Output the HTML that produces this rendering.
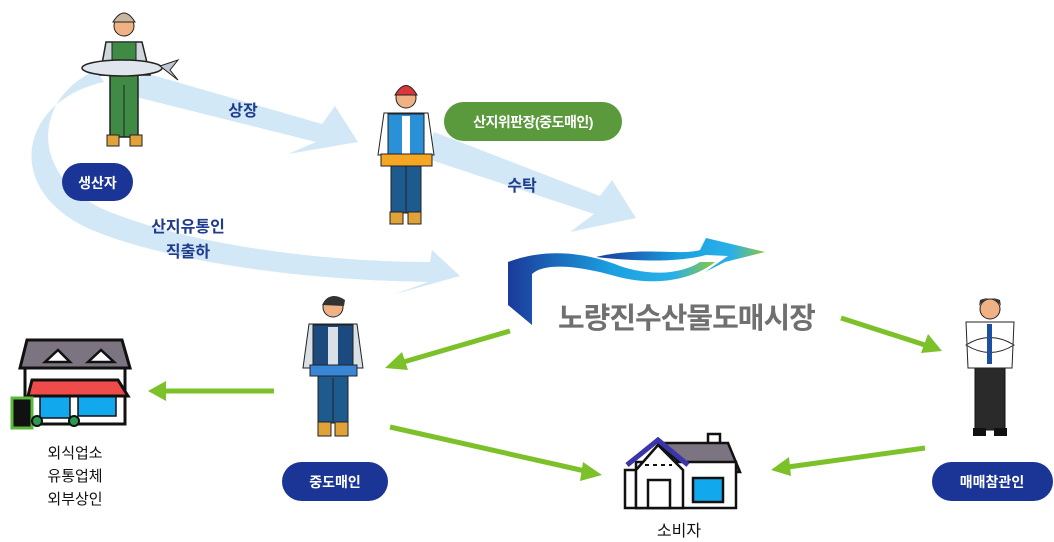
<!DOCTYPE html>
<html><head><meta charset="utf-8"><style>
html,body{margin:0;padding:0;background:#fff;}
svg{display:block;}
text{font-family:"Liberation Sans","Noto Sans CJK KR",sans-serif;}
</style></head><body>
<svg width="1054" height="542" viewBox="0 0 1054 542" xmlns="http://www.w3.org/2000/svg">
<defs>
<linearGradient id="wave" x1="0" y1="0" x2="1" y2="0">
<stop offset="0" stop-color="#1b3a9a"/><stop offset="0.5" stop-color="#1aa0e0"/><stop offset="0.8" stop-color="#2ab0e8"/><stop offset="1" stop-color="#8cc63f"/>
</linearGradient>
</defs>
<!-- light blue arrows -->
<g fill="#d3e8f6">
<path d="M142,72 L322,124 L335,106 L358,142 L288,154 L316,142 L132,96 Z"/>
<path d="M434,132 L600,196 L612,180 L636,218 L570,232 L594,214 L425,158 Z"/>
<path d="M96,70 C30,100 30,180 110,212 C190,244 320,262 430,262 L432,250 L460,276 L395,294 L428,282 C300,280 170,262 92,230 C0,190 20,100 104,82 Z"/>
</g>
<!-- green arrows -->
<g stroke="#7dc12a" stroke-width="5" fill="#7dc12a">
<line x1="510" y1="331" x2="400" y2="363"/>
<polygon stroke="none" points="385,368 402,352 408,370"/>
<line x1="274" y1="391" x2="165" y2="391"/>
<polygon stroke="none" points="148,391 166,381 166,401"/>
<line x1="390" y1="427" x2="585" y2="471"/>
<polygon stroke="none" points="602,475 583,462 580,481"/>
<line x1="841" y1="318" x2="925" y2="345"/>
<polygon stroke="none" points="942,351 928,334 921,353"/>
<line x1="925" y1="448" x2="788" y2="467"/>
<polygon stroke="none" points="771,470 789,457 791,476"/>
</g>
<!-- logo -->
<path d="M508,262 C545,248 585,252 620,266 C655,278 685,272 700,262 L715,262 C690,282 650,286 615,276 C580,266 545,262 532,274 L532,325 L508,305 Z" fill="url(#wave)"/>
<path d="M596,257 C640,246 680,256 700,250 L706,238 L765,252 L725,262 L705,272 L728,256 L706,255 C680,262 640,262 596,257 Z" fill="url(#wave)"/>
<text x="558" y="328" font-size="29" font-weight="bold" fill="#707070" letter-spacing="-1">노량진수산물도매시장</text>
<!-- producer -->
<g>
<rect x="110" y="75" width="28" height="62" fill="#3f8a45" stroke="#222" stroke-width="1.5"/>
<line x1="124" y1="85" x2="124" y2="137" stroke="#222"/>
<rect x="107" y="135" width="12" height="11" fill="#e2a23a" stroke="#222"/><rect x="130" y="135" width="12" height="11" fill="#e2a23a" stroke="#222"/>
<path d="M100,75 L106,42 L142,42 L150,75 Z" fill="#cfd6dc" stroke="#222" stroke-width="1.5"/>
<rect x="112" y="42" width="24" height="30" fill="#3f8a45" stroke="#222"/>
<circle cx="124" cy="26" r="10" fill="#f0b184" stroke="#222"/>
<path d="M113,22 Q124,4 135,22 Z" fill="#c8b79e" stroke="#222"/>
<ellipse cx="122" cy="68" rx="40" ry="8" fill="#dfe6ee" stroke="#222" stroke-width="1.5"/>
<polygon points="160,66 178,60 170,70 178,80" fill="#bfc9d3" stroke="#222"/>
</g>
<!-- middleman red hat -->
<g>
<rect x="391" y="163" width="30" height="50" fill="#1d5a8e" stroke="#222"/>
<line x1="406" y1="165" x2="406" y2="213" stroke="#222"/>
<rect x="390" y="212" width="13" height="12" fill="#e2a23a" stroke="#222"/><rect x="408" y="212" width="13" height="12" fill="#e2a23a" stroke="#222"/>
<path d="M378,155 L384,113 L428,113 L434,155 Z" fill="#fff" stroke="#222"/>
<rect x="388" y="114" width="36" height="43" fill="#2a90d8" stroke="#222"/>
<rect x="402" y="116" width="8" height="40" fill="#fff"/>
<circle cx="406" cy="98" r="10" fill="#f0b184" stroke="#222"/>
<path d="M395,95 Q406,76 417,95 Z" fill="#d9373a" stroke="#222"/>
<rect x="381" y="154" width="51" height="12" fill="#f5a623" stroke="#222"/>
</g>
<!-- middleman 2 -->
<g>
<rect x="318" y="376" width="30" height="47" fill="#1d5a8e" stroke="#222"/>
<line x1="333" y1="378" x2="333" y2="423" stroke="#222"/>
<rect x="318" y="422" width="13" height="14" fill="#e2a23a" stroke="#222"/><rect x="335" y="422" width="13" height="14" fill="#e2a23a" stroke="#222"/>
<path d="M303,368 L309,324 L357,324 L363,368 Z" fill="#d9e0e6" stroke="#222"/>
<rect x="313" y="325" width="40" height="42" fill="#1c4a7e" stroke="#222"/>
<rect x="328" y="327" width="10" height="38" fill="#d9e0e6"/>
<circle cx="333" cy="307" r="10" fill="#f0b184" stroke="#222"/>
<path d="M322,305 Q330,290 345,300 L344,306 Z" fill="#333"/>
<rect x="310" y="365" width="47" height="11" fill="#3a86d6" stroke="#222"/>
</g>
<!-- auction participant -->
<g>
<rect x="975" y="368" width="30" height="62" fill="#2a2a2a" stroke="#111"/>
<rect x="973" y="428" width="13" height="8" fill="#111"/><rect x="994" y="428" width="13" height="8" fill="#111"/>
<path d="M968,368 L966,322 L1014,322 L1012,368 Z" fill="#fff" stroke="#222"/>
<path d="M966,345 Q990,330 1014,345 Q990,360 966,345 Z" fill="#fff" stroke="#222"/>
<rect x="987" y="324" width="5" height="40" fill="#1d4fa0"/>
<circle cx="990" cy="309" r="10" fill="#f0b184" stroke="#222"/>
<path d="M979,306 Q990,290 1001,306 L1000,300 Q990,296 980,300 Z" fill="#333"/>
</g>
<!-- store -->
<g stroke="#111" stroke-width="3">
<polygon points="27,340 122,340 130,368 20,368" fill="#7c7480"/>
<polygon points="45,362 58,350 70,362" fill="#fff" stroke-width="2.5"/>
<polygon points="88,362 101,350 114,362" fill="#fff" stroke-width="2.5"/>
<rect x="25" y="368" width="100" height="56" fill="#fff"/>
<rect x="40" y="396" width="30" height="22" fill="#12a8ee" stroke-width="1.5"/>
<rect x="78" y="396" width="38" height="20" fill="#12a8ee" stroke-width="1.5"/>
<path d="M32,380 L118,380 L128,396 L28,396 Z" fill="#ef4b4b"/>
<rect x="12" y="398" width="20" height="30" fill="#111" stroke="#5cb83a" stroke-width="3"/>
<circle cx="37" cy="421" r="5" fill="#2a9a54" stroke-width="2"/>
<circle cx="74" cy="421" r="5" fill="#2a9a54" stroke-width="2"/>
</g>
<text x="75" y="458" font-size="15" text-anchor="middle" fill="#111">외식업소</text>
<text x="75" y="481" font-size="15" text-anchor="middle" fill="#111">유통업체</text>
<text x="75" y="504" font-size="15" text-anchor="middle" fill="#111">외부상인</text>
<!-- house -->
<g stroke="#111" stroke-width="2.5">
<rect x="708" y="434" width="12" height="12" fill="#fff"/>
<polygon points="658,443 728,443 740,472 690,472" fill="#7c7480"/>
<rect x="625" y="470" width="15" height="38" fill="#fff"/>
<rect x="636" y="462" width="100" height="46" fill="#fff"/>
<polygon points="636,470 658,445 683,470 683,508 636,508" fill="#fff"/>
<path d="M627,465 L658,440 L688,465" fill="none" stroke="#3a35a8" stroke-width="5"/>
<rect x="648" y="480" width="22" height="28" fill="#fff"/>
<rect x="693" y="478" width="30" height="24" fill="#12a8ee"/>
</g>
<line x1="645" y1="465" x2="672" y2="465" stroke="#111" stroke-width="2" stroke-dasharray="4,4"/>
<text x="679" y="536" font-size="16" text-anchor="middle" fill="#111">소비자</text>
<!-- pills -->
<rect x="62" y="163" width="71" height="38" rx="19" fill="#1a3595"/>
<text x="97.5" y="188" font-size="14" font-weight="bold" text-anchor="middle" fill="#fff">생산자</text>
<rect x="444" y="102" width="178" height="39" rx="19.5" fill="#5a9a3c"/>
<text x="533" y="127" font-size="14" font-weight="bold" text-anchor="middle" fill="#fff" letter-spacing="-0.5">산지위판장(중도매인)</text>
<rect x="282" y="462" width="106" height="39" rx="19.5" fill="#1a3595"/>
<text x="335" y="487" font-size="14" font-weight="bold" text-anchor="middle" fill="#fff">중도매인</text>
<rect x="932" y="462" width="121" height="39" rx="19.5" fill="#1a3595"/>
<text x="992" y="487" font-size="14" font-weight="bold" text-anchor="middle" fill="#fff">매매참관인</text>
<!-- arrow labels -->
<g fill="#1f3c8f" font-size="16" font-weight="bold" text-anchor="middle">
<text x="243" y="116">상장</text>
<text x="522" y="191">수탁</text>
<text x="188" y="232">산지유통인</text>
<text x="188" y="257">직출하</text>
</g>
</svg>
</body></html>
